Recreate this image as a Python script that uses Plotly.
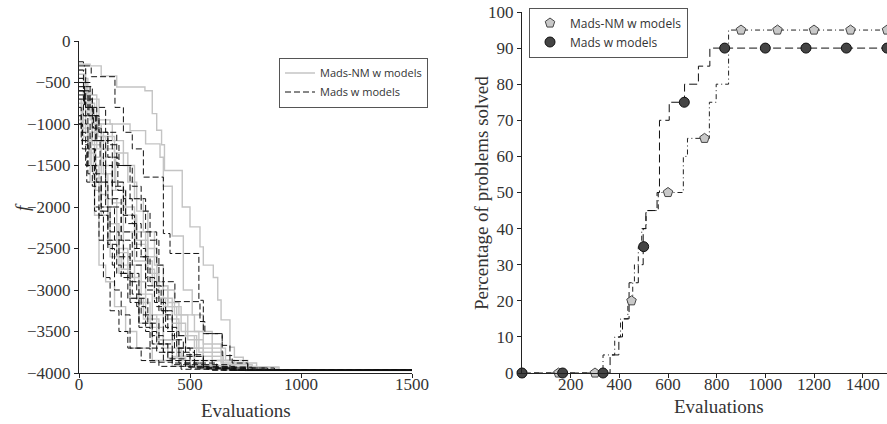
import plotly.graph_objects as go

# ---------------- Left panel: f vs evaluations (step curves) ----------------
NM_X = [
    [0, 50, 100, 170, 297, 330, 350, 372, 385, 465, 500, 545, 560, 605, 625, 640, 680, 700, 740, 800, 900],
    [0, 40, 90, 140, 230, 300, 365, 380, 420, 470, 510, 560, 640, 760, 900],
    [0, 20, 60, 100, 150, 210, 260, 310, 360, 420, 480, 560, 700, 850],
    [0, 30, 70, 110, 130, 180, 220, 280, 330, 380, 450, 520, 620, 780],
    [0, 25, 50, 80, 120, 170, 200, 250, 300, 350, 420, 500, 600, 750],
    [0, 15, 45, 75, 100, 140, 190, 230, 270, 330, 400, 480, 580, 720],
    [0, 20, 50, 70, 90, 120, 160, 210, 260, 330, 420, 550, 700],
    [0, 35, 80, 150, 200, 250, 290, 340, 380, 430, 490, 560, 650, 800],
    [0, 30, 60, 100, 160, 220, 260, 310, 350, 380, 440, 530, 650, 800],
    [0, 10, 40, 65, 100, 140, 180, 230, 290, 360, 440, 520, 640],
    [0, 30, 70, 110, 160, 200, 250, 300, 350, 400, 460, 540, 650, 780],
    [0, 20, 55, 90, 130, 170, 220, 270, 320, 380, 460, 560, 700],
    [0, 40, 85, 120, 165, 210, 255, 300, 340, 390, 450, 520, 600, 700, 900],
    [0, 30, 60, 100, 150, 200, 250, 330, 400, 450, 520, 600, 660, 760, 850],
]
NM_F = [
    [-280, -300, -420, -555, -600, -875, -1075, -1250, -1560, -2000, -2240, -2480, -2700, -2850, -3120, -3360, -3690, -3810, -3880, -3930, -3965],
    [-450, -700, -950, -1000, -1080, -1240, -1400, -1750, -2350, -3000, -3300, -3650, -3880, -3940, -3968],
    [-600, -900, -1200, -1500, -1800, -2100, -2400, -2800, -3100, -3400, -3700, -3850, -3940, -3968],
    [-950, -1100, -1400, -1600, -2200, -2500, -2700, -3050, -3300, -3600, -3800, -3900, -3950, -3968],
    [-400, -600, -950, -1300, -1900, -2300, -2700, -2900, -3300, -3600, -3800, -3900, -3950, -3970],
    [-800, -1050, -1350, -1800, -2100, -2600, -2750, -3100, -3400, -3650, -3820, -3900, -3950, -3968],
    [-1000, -1200, -1700, -2100, -2700, -2900, -3200, -3500, -3700, -3850, -3920, -3955, -3968],
    [-500, -650, -1000, -1200, -1500, -1900, -2300, -2700, -3000, -3300, -3600, -3800, -3920, -3968],
    [-350, -700, -1000, -1150, -1350, -1700, -2050, -2500, -2900, -3200, -3550, -3800, -3930, -3968],
    [-700, -1000, -1300, -1650, -2000, -2400, -2800, -3100, -3350, -3600, -3800, -3910, -3965],
    [-550, -750, -1100, -1300, -1700, -2000, -2300, -2600, -2950, -3200, -3500, -3750, -3900, -3968],
    [-900, -1150, -1500, -1850, -2200, -2550, -2850, -3150, -3450, -3700, -3850, -3930, -3968],
    [-600, -900, -1150, -1400, -1800, -2100, -2450, -2750, -3100, -3350, -3550, -3700, -3850, -3930, -3968],
    [-750, -1000, -1250, -1600, -1950, -2300, -2650, -2950, -3150, -3300, -3500, -3700, -3850, -3930, -3968],
]

M_X = [
    [0, 20, 55, 162, 200, 240, 290, 380, 410, 540, 560, 645, 690, 760, 850],
    [0, 25, 60, 120, 170, 230, 300, 350, 380, 432, 545, 567, 645, 680, 760, 880],
    [0, 15, 40, 80, 130, 190, 240, 300, 360, 400, 450, 520, 620, 760],
    [0, 30, 60, 95, 120, 160, 200, 240, 280, 330, 380, 450, 560, 700],
    [0, 10, 40, 70, 90, 110, 140, 180, 220, 280, 360, 460, 600],
    [0, 20, 50, 80, 120, 150, 190, 230, 270, 310, 360, 420, 500, 650],
    [0, 30, 50, 75, 100, 140, 180, 230, 260, 300, 350, 420, 520, 680],
    [0, 20, 45, 75, 110, 150, 200, 250, 300, 340, 390, 440, 520, 620, 780],
    [0, 15, 35, 70, 110, 150, 190, 230, 270, 320, 380, 460, 580, 720],
    [0, 25, 65, 100, 150, 200, 240, 280, 320, 350, 380, 430, 500, 600, 760],
    [0, 40, 90, 130, 180, 240, 280, 320, 360, 380, 420, 470, 560, 700],
    [0, 10, 30, 60, 90, 130, 170, 220, 270, 330, 400, 480, 600],
    [0, 20, 40, 70, 100, 130, 160, 190, 230, 320, 420, 560, 750],
    [0, 30, 60, 90, 130, 175, 210, 260, 310, 370, 420, 480, 560, 680],
]
M_F = [
    [-250, -300, -430, -800, -1100, -1300, -1640, -2320, -2560, -3124, -3526, -3790, -3880, -3940, -3965],
    [-500, -700, -800, -1100, -1500, -1900, -2300, -2700, -2900, -3140, -3380, -3525, -3667, -3850, -3940, -3965],
    [-1000, -1250, -1500, -1700, -1900, -2300, -2700, -3000, -3250, -3500, -3750, -3880, -3945, -3965],
    [-600, -800, -1200, -1500, -2000, -2400, -2800, -3050, -3300, -3550, -3750, -3880, -3950, -3965],
    [-900, -1200, -1600, -2000, -2400, -2850, -3250, -3500, -3700, -3850, -3920, -3955, -3965],
    [-350, -500, -800, -1200, -1700, -2000, -2400, -2800, -3100, -3400, -3650, -3850, -3940, -3965],
    [-700, -1000, -1300, -1600, -2050, -2300, -2600, -2900, -3200, -3500, -3750, -3880, -3940, -3965],
    [-450, -600, -900, -1200, -1500, -1750, -2100, -2500, -2850, -3150, -3450, -3700, -3850, -3930, -3965],
    [-1000, -1300, -1700, -2050, -2400, -2700, -2850, -3150, -3450, -3700, -3850, -3920, -3955, -3965],
    [-550, -800, -1050, -1200, -1700, -1900, -2200, -2600, -2900, -3200, -3500, -3700, -3850, -3930, -3965],
    [-650, -900, -1100, -1250, -1500, -1750, -2050, -2400, -2900, -3300, -3600, -3800, -3920, -3965],
    [-800, -1100, -1500, -1750, -2100, -2450, -2800, -3100, -3400, -3650, -3830, -3930, -3965],
    [-600, -900, -1300, -1700, -2000, -2500, -3000, -3300, -3700, -3870, -3900, -3940, -3965],
    [-300, -550, -900, -1100, -1400, -1800, -2200, -2600, -2950, -3250, -3550, -3780, -3900, -3965],
]

X_MAX = 1500

# ---------------- Right panel: percentage of problems solved ----------------
NM_PROF_X = [0, 333, 381, 405, 435, 455, 462, 478, 492, 510, 560, 663, 680, 770, 798, 849]
NM_PROF_Y = [0, 5, 10, 15, 20, 25, 30, 35, 40, 45, 50, 60, 65, 75, 80, 95]
M_PROF_X = [0, 362, 398, 413, 440, 478, 498, 509, 555, 565, 605, 668, 725, 772]
M_PROF_Y = [0, 5, 10, 15, 25, 30, 40, 45, 50, 70, 75, 80, 85, 90]

NM_MARK_X = [0, 150, 300, 450, 600, 750, 900, 1050, 1200, 1350, 1500]
NM_MARK_Y = [0, 0, 0, 20, 50, 65, 95, 95, 95, 95, 95]
M_MARK_X = [0, 167, 333, 500, 667, 833, 1000, 1167, 1333, 1500]
M_MARK_Y = [0, 0, 0, 35, 75, 90, 90, 90, 90, 90]

NAME_NM = "Mads-NM w models"
NAME_M = "Mads w models"

W, H = 887, 424
SERIF = "Liberation Serif, DejaVu Serif, serif"
SANS = "Open Sans, DejaVu Sans, sans-serif"


def px(v):
    return v / W


def py(v):
    return 1 - v / H


fig = go.Figure()

for i, (xs, fs) in enumerate(zip(NM_X, NM_F)):
    fig.add_trace(go.Scatter(
        x=xs + [X_MAX], y=fs + [fs[-1]], mode="lines", line_shape="hv",
        line=dict(color="#c4c4c4", width=1.4), name=NAME_NM,
        legendgroup="nm", showlegend=(i == 0), legend="legend",
        xaxis="x", yaxis="y", hoverinfo="skip"))

for i, (xs, fs) in enumerate(zip(M_X, M_F)):
    fig.add_trace(go.Scatter(
        x=xs + [X_MAX], y=fs + [fs[-1]], mode="lines", line_shape="hv",
        line=dict(color="#111111", width=1, dash="6px,3px"), name=NAME_M,
        legendgroup="m", showlegend=(i == 0), legend="legend",
        xaxis="x", yaxis="y", hoverinfo="skip"))

# right panel lines
fig.add_trace(go.Scatter(
    x=NM_PROF_X + [X_MAX], y=NM_PROF_Y + [NM_PROF_Y[-1]], mode="lines", line_shape="hv",
    line=dict(color="#222222", width=1, dash="5px,3px,1px,3px"),
    showlegend=False, xaxis="x2", yaxis="y2", cliponaxis=False, hoverinfo="skip"))
fig.add_trace(go.Scatter(
    x=M_PROF_X + [X_MAX], y=M_PROF_Y + [M_PROF_Y[-1]], mode="lines", line_shape="hv",
    line=dict(color="#111111", width=1, dash="8px,4px"),
    showlegend=False, xaxis="x2", yaxis="y2", cliponaxis=False, hoverinfo="skip"))
fig.add_trace(go.Scatter(
    x=NM_MARK_X, y=NM_MARK_Y, mode="markers", name=NAME_NM,
    marker=dict(symbol="pentagon", size=10, color="#c8c8c8", line=dict(color="#444444", width=1)),
    legend="legend2", xaxis="x2", yaxis="y2", cliponaxis=False))
fig.add_trace(go.Scatter(
    x=M_MARK_X, y=M_MARK_Y, mode="markers", name=NAME_M,
    marker=dict(symbol="circle", size=10, color="#444444", line=dict(color="#111111", width=1)),
    legend="legend2", xaxis="x2", yaxis="y2", cliponaxis=False))

ax_common = dict(showgrid=False, zeroline=False, showline=True, linecolor="#222222", linewidth=1,
                 ticks="outside", ticklen=4, tickcolor="#222222", automargin=False,
                 ticklabeloverflow="allow",
                 tickfont=dict(family=SERIF, size=17, color="#333333"), mirror=False)

fig.update_layout(
    width=W, height=H, margin=dict(l=0, r=0, t=0, b=0, pad=0, autoexpand=False),
    paper_bgcolor="white", plot_bgcolor="white",
    xaxis=dict(domain=[px(79), px(412)], range=[0, 1500], tickvals=[0, 500, 1000, 1500],
               anchor="y", ticklabelstandoff=-8, **ax_common),
    yaxis=dict(domain=[py(373), py(41)], range=[-4000, 0], dtick=500,
               anchor="x", **ax_common),
    xaxis2=dict(domain=[px(522), px(887)], range=[0, 1500],
                tickvals=[200, 400, 600, 800, 1000, 1200, 1400], anchor="y2",
                ticklabelstandoff=-8, **ax_common),
    yaxis2=dict(domain=[py(373), py(12)], range=[0, 100], dtick=10,
                anchor="x2", **ax_common),
    legend=dict(x=px(279), y=py(82.5), xanchor="left", yanchor="middle",
                bgcolor="white", bordercolor="#555555", borderwidth=1,
                font=dict(family=SANS, size=11, color="#333333"),
                tracegroupgap=0, itemwidth=30),
    legend2=dict(x=px(529), y=py(32.5), xanchor="left", yanchor="middle",
                 bgcolor="white", bordercolor="#555555", borderwidth=1,
                 font=dict(family=SANS, size=12, color="#333333"),
                 tracegroupgap=0, itemwidth=30),
    annotations=[
        dict(text="Evaluations", x=px(245.5), y=py(410), xref="paper", yref="paper",
             xanchor="center", yanchor="middle",
             showarrow=False, font=dict(family=SERIF, size=19, color="#333333")),
        dict(text="Evaluations", x=px(719), y=py(406), xref="paper", yref="paper",
             xanchor="center", yanchor="middle",
             showarrow=False, font=dict(family=SERIF, size=19, color="#333333")),
        dict(text="<i>f</i>", x=px(22), y=py(207), xref="paper", yref="paper",
             xanchor="center", yanchor="middle",
             showarrow=False, textangle=-90, font=dict(family=SERIF, size=19, color="#333333")),
        dict(text="Percentage of problems solved", x=px(481), y=py(193), xref="paper",
             yref="paper", xanchor="center", yanchor="middle", showarrow=False, textangle=-90,
             font=dict(family=SERIF, size=19, color="#333333")),
    ],
)

fig.write_html("out.html", config={"displayModeBar": False},
               post_script="document.body.style.margin='0px';")
